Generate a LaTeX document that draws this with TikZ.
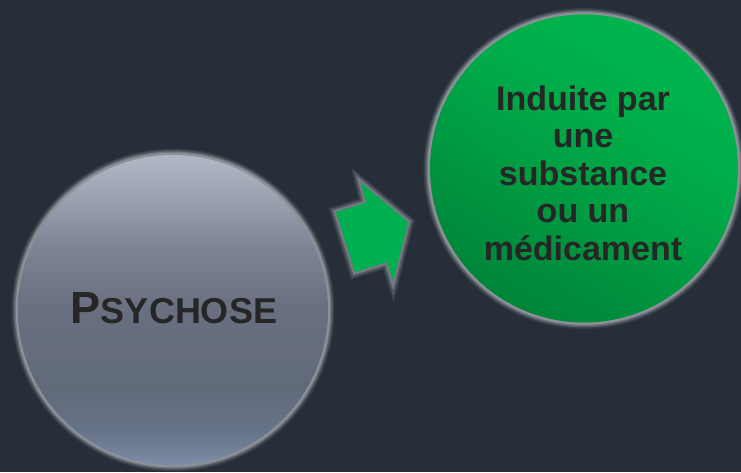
\documentclass[tikz,border=0pt]{standalone}
\usepackage{fontspec}
\setmainfont{Liberation Sans}
\definecolor{bg}{HTML}{262E38}
\definecolor{glow}{HTML}{8E939A}
\definecolor{txt}{HTML}{262626}
\definecolor{arrowgreen}{HTML}{00B050}
\definecolor{gA}{HTML}{7E8EA7}
\definecolor{gB}{HTML}{67748A}
\definecolor{gC}{HTML}{616A7B}
\definecolor{gD}{HTML}{687080}
\definecolor{gE}{HTML}{7C8494}
\definecolor{gF}{HTML}{99A0AE}
\definecolor{gG}{HTML}{B0B7C5}
\definecolor{nA}{HTML}{00843A}
\definecolor{nB}{HTML}{009C42}
\definecolor{nC}{HTML}{00AD4A}
\definecolor{nD}{HTML}{00B44D}
\pgfdeclareverticalshading{greyball}{100bp}{%
  color(0bp)=(gA);
  color(25bp)=(gA);
  color(30bp)=(gB);
  color(37.5bp)=(gC);
  color(50bp)=(gD);
  color(60bp)=(gE);
  color(67.5bp)=(gF);
  color(75bp)=(gG);
  color(100bp)=(gG)}
\pgfdeclarehorizontalshading{greenball}{100bp}{%
  color(0bp)=(nA);
  color(25bp)=(nA);
  color(45bp)=(nB);
  color(60bp)=(nC);
  color(75bp)=(nD);
  color(100bp)=(nD)}
\tikzset{
  ball/.style={circle, inner sep=0pt, outer sep=0pt,
    preaction={draw=glow, line width=13pt, opacity=0.15},
    preaction={draw=glow, line width=10pt, opacity=0.3},
    preaction={draw=glow, line width=7pt, opacity=0.55},
    preaction={draw=glow, line width=4.5pt, opacity=0.95}},
  lbl/.style={text=txt, font=\bfseries, align=center, inner sep=0pt},
  blockarrow/.style={line join=round,
    preaction={draw=glow, line width=12pt, opacity=0.15},
    preaction={draw=glow, line width=9pt, opacity=0.3},
    preaction={draw=glow, line width=5pt, opacity=0.6},
    fill=arrowgreen},
}
\begin{document}
\begin{tikzpicture}[x=1pt,y=-1pt]
\fill[bg] (0,0) rectangle (741,472);
\useasboundingbox (0,0) rectangle (741,472);
% left ball
\node[ball, minimum size=310pt, shading=greyball] (L) at (173,310) {};
\node[lbl, anchor=base] (Ltxt) at (174,323)
  {\fontsize{45}{45}\selectfont P\fontsize{36}{36}\selectfont SYCHOSE};
% right ball
\node[ball, minimum size=308pt, shading=greenball, shading angle=60] (R) at (584,168.5) {};
\node[lbl, font=\bfseries\fontsize{34}{37.5}\selectfont] (Rtxt) at (583,173)
  {Induite par\\une\\substance\\ou un\\médicament};
% block arrow
\path[blockarrow]
  (336,212) -- (366,203) -- (361,183) -- (408,222) -- (393,281) -- (387,262) -- (355,272) -- cycle;
\end{tikzpicture}
\end{document}
